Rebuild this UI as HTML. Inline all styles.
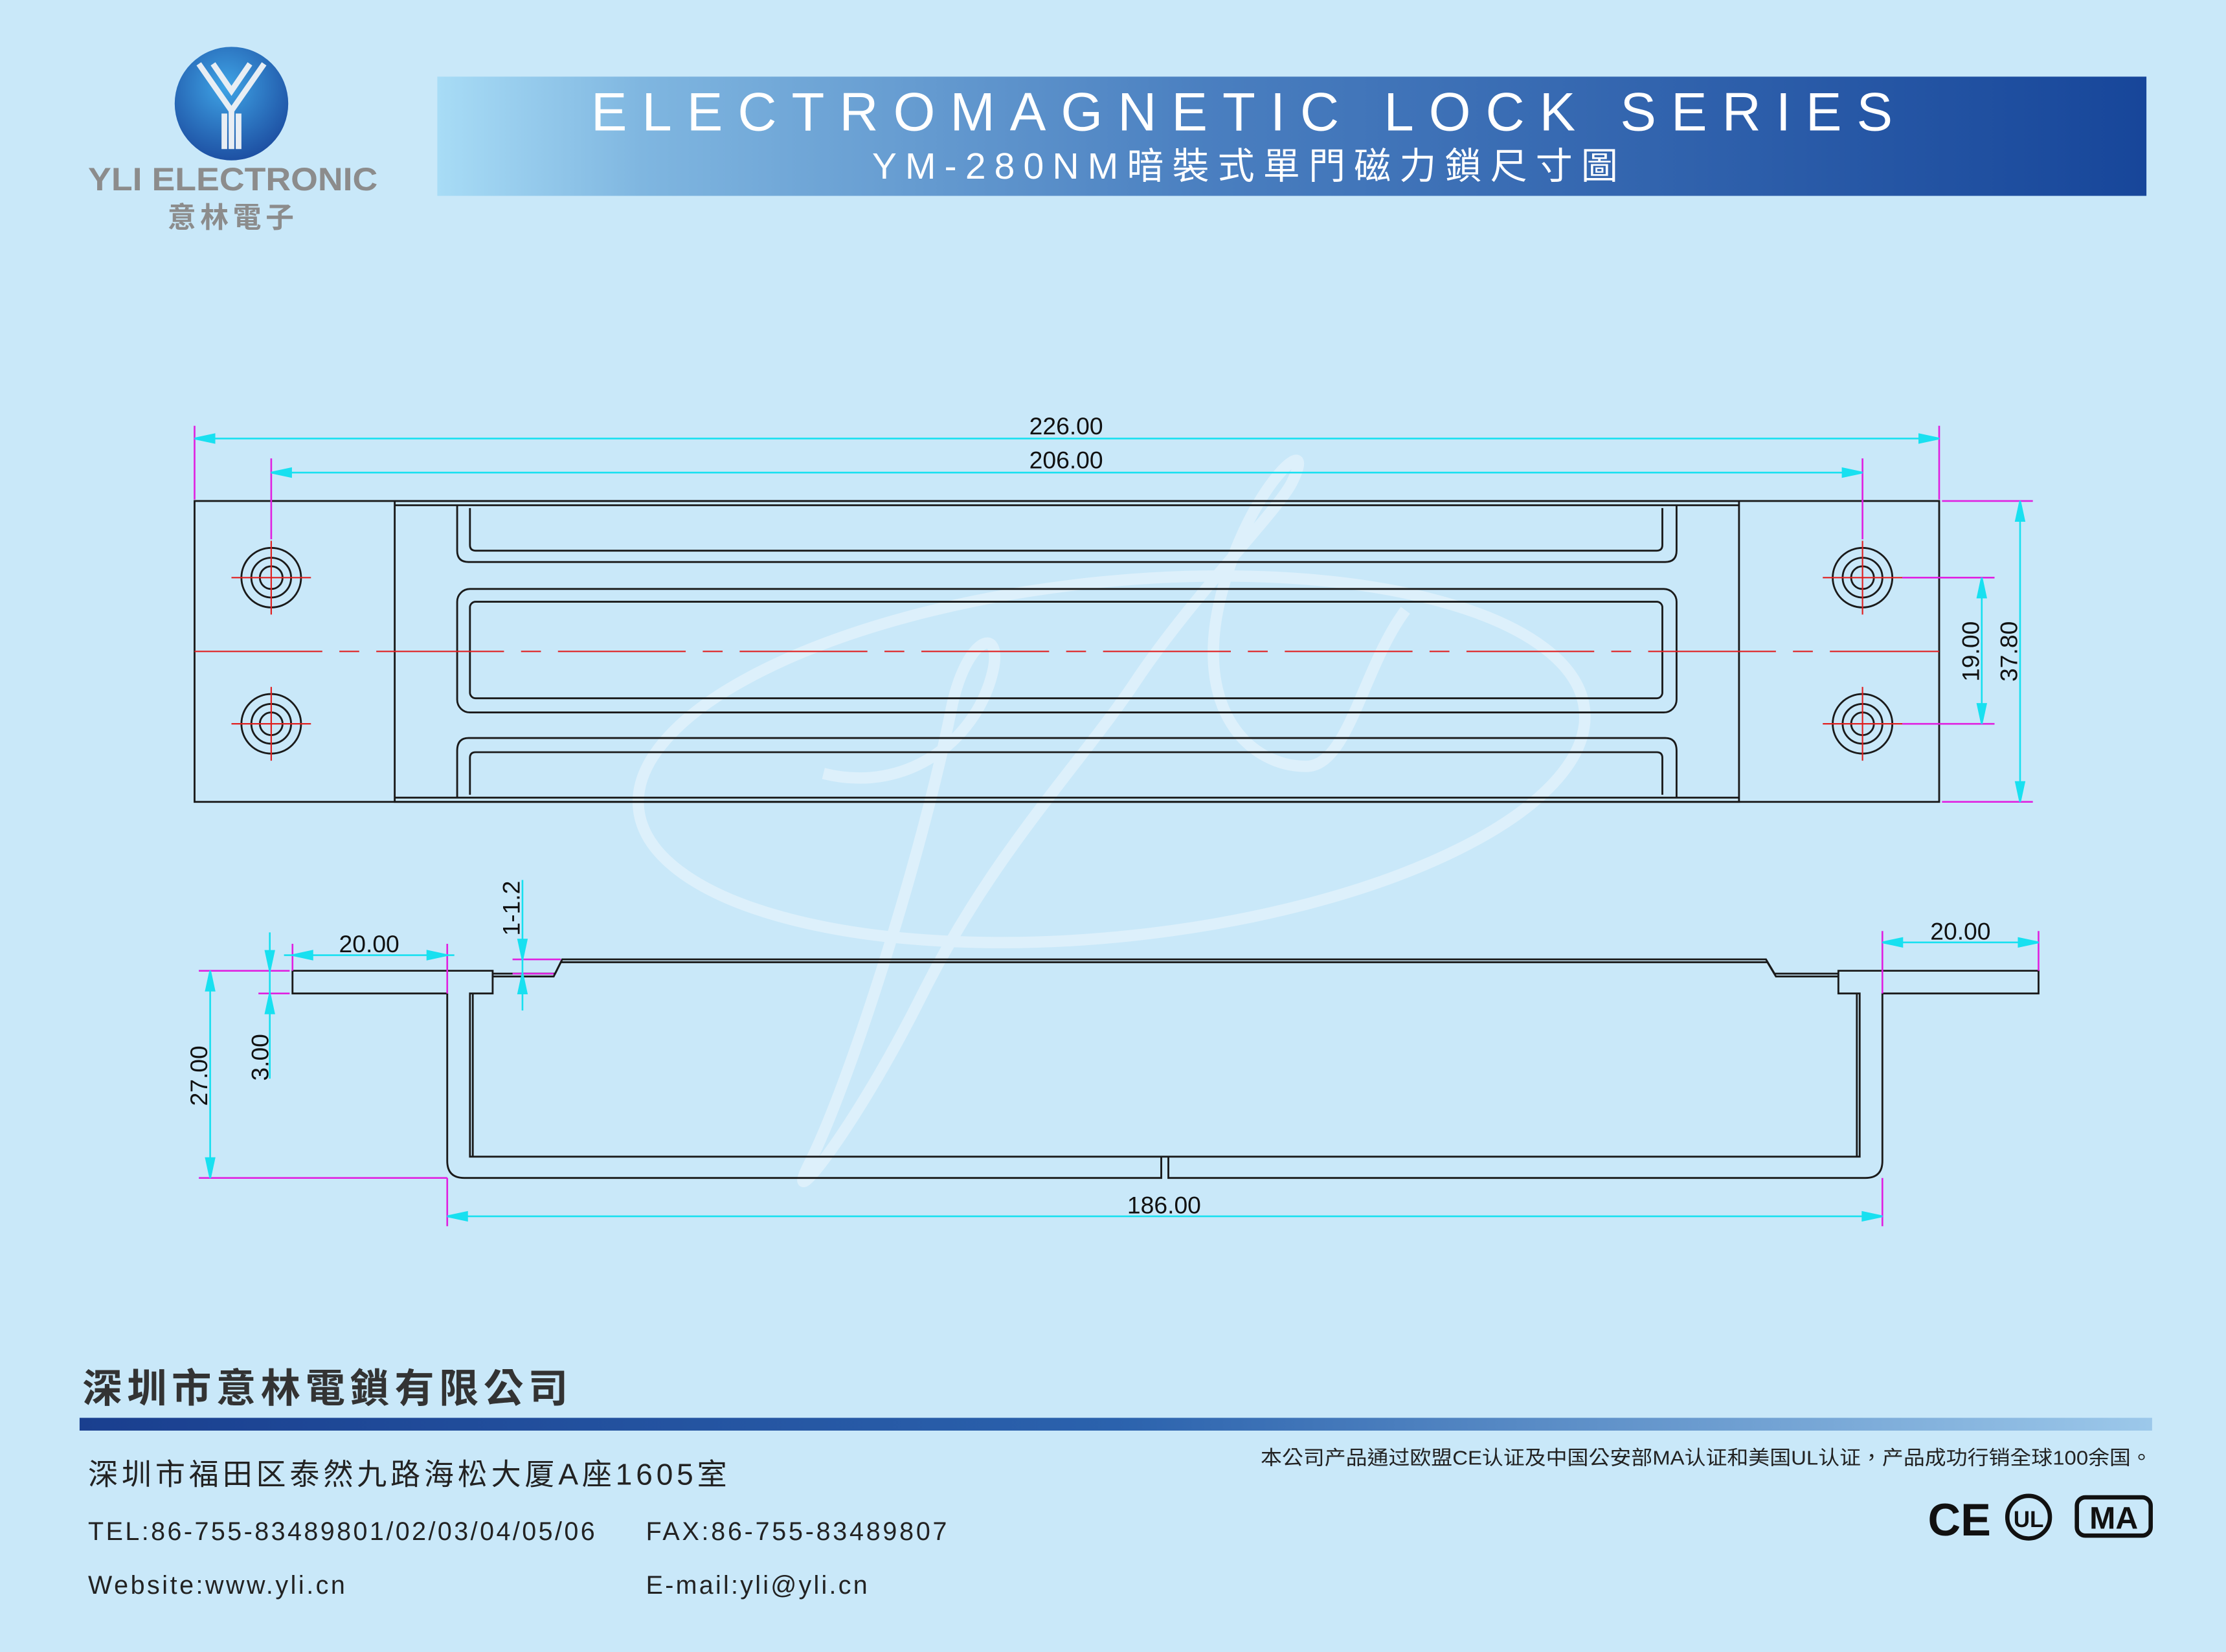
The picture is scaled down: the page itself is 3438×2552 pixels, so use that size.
<!DOCTYPE html>
<html><head><meta charset="utf-8"><style>
html,body{margin:0;padding:0;background:#c9e8f9;}
svg{display:block}
</style></head><body>
<svg width="3438" height="2552" viewBox="0 0 1568 1164" xmlns="http://www.w3.org/2000/svg" font-family="'Liberation Sans','Noto Sans CJK TC',sans-serif">
<defs>
<linearGradient id="ban" x1="0" x2="1" y1="0" y2="0">
<stop offset="0" stop-color="#a8dcf6"/><stop offset="0.12" stop-color="#7fb6e0"/><stop offset="0.45" stop-color="#4a7fc0"/><stop offset="1" stop-color="#17469a"/></linearGradient>
<radialGradient id="lg" cx="0.45" cy="0.35" r="0.7"><stop offset="0" stop-color="#3fa4e6"/><stop offset="1" stop-color="#1b4a9e"/></radialGradient>
<linearGradient id="bar" x1="0" x2="1"><stop offset="0" stop-color="#1a3f8f"/><stop offset="0.5" stop-color="#2b62ad"/><stop offset="1" stop-color="#9cc8ea"/></linearGradient>
</defs>
<rect width="1568" height="1164" fill="#c9e8f9"/>
<circle cx="163" cy="73" r="40" fill="url(#lg)"/>
<path d="M140,45 L163,78 L186,45 M150,45 L163,64 L176,45 M163,78 V105 M158,80 V105 M168,80 V105" stroke="#e8eef4" stroke-width="4" fill="none"/>
<text x="164" y="134" font-size="23" fill="#8c8c8c" text-anchor="middle" font-weight="bold" textLength="204" lengthAdjust="spacingAndGlyphs">YLI ELECTRONIC</text>
<text x="164" y="160" font-size="20" fill="#8c8c8c" text-anchor="middle" font-weight="bold" letter-spacing="3">意林電子</text>
<rect x="308" y="54" width="1204" height="84" fill="url(#ban)"/>
<text x="880" y="92" font-size="38" fill="#fff" text-anchor="middle" letter-spacing="10.5">ELECTROMAGNETIC LOCK SERIES</text>
<text x="880" y="126" font-size="26" fill="#fff" text-anchor="middle" letter-spacing="6">YM-280NM暗裝式單門磁力鎖尺寸圖</text>
<g fill="none" stroke="#e6f4fc" stroke-width="8" opacity="0.7">
<ellipse cx="783" cy="535" rx="335" ry="125" transform="rotate(-6 783 535)"/>
<path d="M580,545 C640,560 690,520 700,470 C705,440 680,450 670,500 C650,600 600,760 570,820 C550,860 600,800 650,700 C700,600 760,540 800,480 C840,420 900,360 910,340 C930,300 880,340 860,420 C840,500 880,540 920,540 C950,540 960,470 990,430"/>
</g>
<g fill="none" stroke="#1a1a1a" stroke-width="1.3">
<rect x="137" y="353" width="1229" height="212"/>
<rect x="278" y="353" width="947" height="212"/>
<line x1="278" y1="356" x2="1225" y2="356"/>
<line x1="278" y1="562" x2="1225" y2="562"/>
<path d="M322,356 V388 Q322,396 330,396 H1173 Q1181,396 1181,388 V356"/>
<path d="M331,358 V384 Q331,388 335,388 H1167 Q1171,388 1171,384 V358"/>
<rect x="322" y="415" width="859" height="87" rx="9"/>
<rect x="331" y="424" width="840" height="68" rx="4"/>
<path d="M322,562 V529 Q322,520 330,520 H1173 Q1181,520 1181,529 V562"/>
<path d="M331,560 V534 Q331,530 335,530 H1167 Q1171,530 1171,534 V560"/>
<circle cx="191" cy="407" r="21"/><circle cx="191" cy="407" r="14"/><circle cx="191" cy="407" r="8"/>
<circle cx="191" cy="510" r="21"/><circle cx="191" cy="510" r="14"/><circle cx="191" cy="510" r="8"/>
<circle cx="1312" cy="407" r="21"/><circle cx="1312" cy="407" r="14"/><circle cx="1312" cy="407" r="8"/>
<circle cx="1312" cy="510" r="21"/><circle cx="1312" cy="510" r="14"/><circle cx="1312" cy="510" r="8"/>
</g>
<g stroke="#e02020" stroke-width="1" fill="none">
<line x1="137" y1="459" x2="1366" y2="459" stroke-dasharray="90,12,14,12"/>
<line x1="163" y1="407" x2="219" y2="407"/><line x1="191" y1="381" x2="191" y2="433"/>
<line x1="163" y1="510" x2="219" y2="510"/><line x1="191" y1="484" x2="191" y2="536"/>
<line x1="1284" y1="407" x2="1340" y2="407"/><line x1="1312" y1="381" x2="1312" y2="433"/>
<line x1="1284" y1="510" x2="1340" y2="510"/><line x1="1312" y1="484" x2="1312" y2="536"/>
</g>
<g stroke="#e020e0" stroke-width="1.2">
<line x1="137" y1="300" x2="137" y2="352"/><line x1="1366" y1="300" x2="1366" y2="352"/>
<line x1="191" y1="323" x2="191" y2="380"/><line x1="1312" y1="323" x2="1312" y2="380"/>
<line x1="1368" y1="353" x2="1432" y2="353"/><line x1="1368" y1="565" x2="1432" y2="565"/>
<line x1="1340" y1="407" x2="1405" y2="407"/><line x1="1340" y1="510" x2="1405" y2="510"/>
</g>
<g stroke="#18e0f0" stroke-width="1.2" fill="#18e0f0">
<line x1="137" y1="309" x2="1366" y2="309"/><path d="M137,309 l14,-3 v6z M1366,309 l-14,-3 v6z"/>
<line x1="191" y1="333" x2="1312" y2="333"/><path d="M191,333 l14,-3 v6z M1312,333 l-14,-3 v6z"/>
<line x1="1423" y1="353" x2="1423" y2="565"/><path d="M1423,353 l-3,14 h6z M1423,565 l-3,-14 h6z"/>
<line x1="1396" y1="407" x2="1396" y2="510"/><path d="M1396,407 l-3,14 h6z M1396,510 l-3,-14 h6z"/>
</g>
<g font-size="17" fill="#111" text-anchor="middle" font-family="'Liberation Sans Narrow','Liberation Sans',sans-serif">
<text x="751" y="306">226.00</text>
<text x="751" y="330">206.00</text>
<text transform="translate(1421,459) rotate(-90)">37.80</text>
<text transform="translate(1394,459) rotate(-90)">19.00</text>
<text x="260" y="671">20.00</text>
<text x="1381" y="662">20.00</text>
<text transform="translate(146,758) rotate(-90)">27.00</text>
<text transform="translate(189,745) rotate(-90)">3.00</text>
<text transform="translate(366,640) rotate(-90)">1-1.2</text>
<text x="820" y="855">186.00</text>
</g>
<g fill="none" stroke="#1a1a1a" stroke-width="1.3">
<path d="M315,700 H206 V684 H347 V700 H331 V815 H1310 V700 H1295 V684 H1436 V700 H1326 V818 Q1326,830 1314,830 H823 V815 M818,815 V830 H327 Q315,830 315,818 V700"/>
<path d="M333,700 V815"/><path d="M1308,700 V815"/>
<path d="M347,686 H391 L396,676 H1244 L1250,686 H1295"/>
<path d="M347,688 H390 L395,678 H1245 L1251,688 H1295"/>
</g>
<g stroke="#e020e0" stroke-width="1.2">
<line x1="206" y1="665" x2="206" y2="684"/><line x1="315" y1="665" x2="315" y2="700"/>
<line x1="1326" y1="656" x2="1326" y2="700"/><line x1="1436" y1="656" x2="1436" y2="684"/>
<line x1="140" y1="684" x2="204" y2="684"/><line x1="182" y1="700" x2="204" y2="700"/>
<line x1="140" y1="830" x2="315" y2="830"/><line x1="315" y1="830" x2="315" y2="864"/><line x1="1326" y1="830" x2="1326" y2="864"/>
<line x1="361" y1="676" x2="395" y2="676"/><line x1="361" y1="686" x2="390" y2="686"/>
</g>
<g stroke="#18e0f0" stroke-width="1.2" fill="#18e0f0">
<line x1="200" y1="673" x2="320" y2="673"/><path d="M206,673 l14,-3 v6z M315,673 l-14,-3 v6z"/>
<line x1="1326" y1="664" x2="1436" y2="664"/><path d="M1326,664 l14,-3 v6z M1436,664 l-14,-3 v6z"/>
<line x1="148" y1="684" x2="148" y2="830"/><path d="M148,684 l-3,14 h6z M148,830 l-3,-14 h6z"/>
<line x1="190" y1="657" x2="190" y2="760"/><path d="M190,684 l-3,-14 h6z M190,700 l-3,14 h6z"/>
<line x1="368" y1="620" x2="368" y2="712"/><path d="M368,676 l-3,-14 h6z M368,686 l-3,14 h6z"/>
<line x1="315" y1="857" x2="1326" y2="857"/><path d="M315,857 l14,-3 v6z M1326,857 l-14,-3 v6z"/>
</g>
<text x="58" y="988" font-size="28" font-weight="bold" fill="#333" textLength="342" lengthAdjust="spacing">深圳市意林電鎖有限公司</text>
<rect x="56" y="999" width="1460" height="9" fill="url(#bar)"/>
<text x="62" y="1046" font-size="21" fill="#222" textLength="450" lengthAdjust="spacing">深圳市福田区泰然九路海松大厦A座1605室</text>
<text x="62" y="1085" font-size="18" fill="#222" textLength="357" lengthAdjust="spacing">TEL:86-755-83489801/02/03/04/05/06</text>
<text x="455" y="1085" font-size="18" fill="#222" textLength="212" lengthAdjust="spacing">FAX:86-755-83489807</text>
<text x="62" y="1123" font-size="18" fill="#222" textLength="181" lengthAdjust="spacing">Website:www.yli.cn</text>
<text x="455" y="1123" font-size="18" fill="#222" textLength="156" lengthAdjust="spacing">E-mail:yli@yli.cn</text>
<text x="888" y="1032" font-size="14" fill="#222" textLength="628" lengthAdjust="spacingAndGlyphs">本公司产品通过欧盟CE认证及中国公安部MA认证和美国UL认证，产品成功行销全球100余国。</text>
<text x="1358" y="1082" font-size="32" font-weight="bold" fill="#111">CE</text>
<circle cx="1429" cy="1069" r="15" fill="none" stroke="#111" stroke-width="3"/>
<text x="1429" y="1076" font-size="16" font-weight="bold" fill="#111" text-anchor="middle">UL</text>
<rect x="1463" y="1055" width="52" height="27" rx="6" fill="none" stroke="#111" stroke-width="3"/>
<text x="1489" y="1077" font-size="22" font-weight="bold" fill="#111" text-anchor="middle">MA</text>
</svg>
</body></html>
